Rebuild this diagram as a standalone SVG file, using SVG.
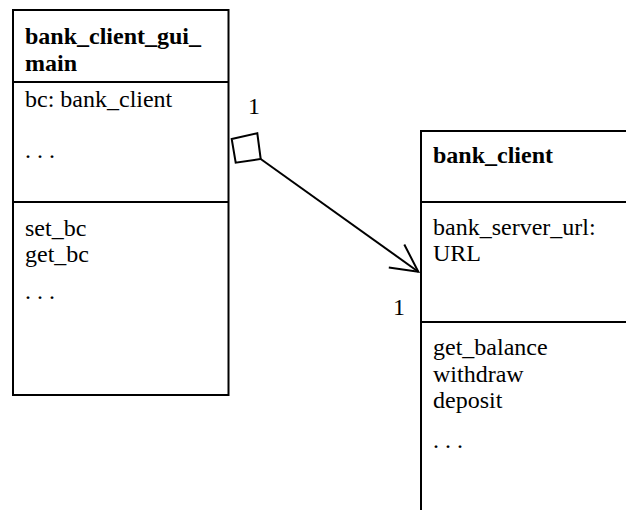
<svg xmlns="http://www.w3.org/2000/svg" width="626" height="510" viewBox="0 0 626 510">
  <style>
    .box { fill: #ffffff; stroke: #000000; stroke-width: 2; }
    .div { stroke: #000000; stroke-width: 2; fill: none; }
    text { font-family: "Liberation Serif", "Times New Roman", serif; font-size: 24px; fill: #000000; }
    .title { font-weight: bold; }
    .conn { stroke: #000000; stroke-width: 2; fill: none; }
  </style>
  <rect width="626" height="510" fill="#ffffff"/>

  <g id="bank_client_gui_main">
    <rect class="box" x="13" y="10" width="215.5" height="385"/>
    <line class="div" x1="13" y1="82" x2="228.5" y2="82"/>
    <line class="div" x1="13" y1="202" x2="228.5" y2="202"/>
    <text class="title" x="25" y="43.5">bank_client_gui_</text>
    <text class="title" x="25" y="70.5">main</text>
    <text x="25" y="107">bc: bank_client</text>
    <text x="25" y="158">. . .</text>
    <text x="25" y="235.5">set_bc</text>
    <text x="25" y="261.5">get_bc</text>
    <text x="25" y="299">. . .</text>
  </g>

  <g id="bank_client">
    <path class="div" d="M 626 131 H 421 V 512"/>
    <line class="div" x1="421" y1="202" x2="626" y2="202"/>
    <line class="div" x1="421" y1="322" x2="626" y2="322"/>
    <text class="title" x="433" y="163">bank_client</text>
    <text x="433" y="234.5">bank_server_url:</text>
    <text x="433" y="260.5">URL</text>
    <text x="433" y="355">get_balance</text>
    <text x="433" y="381.5">withdraw</text>
    <text x="433" y="408">deposit</text>
    <text x="433" y="447.5">. . .</text>
  </g>

  <g id="connectors">
    <polygon class="conn" points="231.7,139 257.3,133.3 260.7,159 235.7,162.7"/>
    <line class="conn" x1="260.7" y1="159" x2="418.3" y2="271.7"/>
    <polyline class="conn" points="404.3,244.5 418.3,271.7 388.8,267.5"/>
    <text x="254" y="114" text-anchor="middle">1</text>
    <text x="399" y="314.5" text-anchor="middle">1</text>
  </g>
</svg>
